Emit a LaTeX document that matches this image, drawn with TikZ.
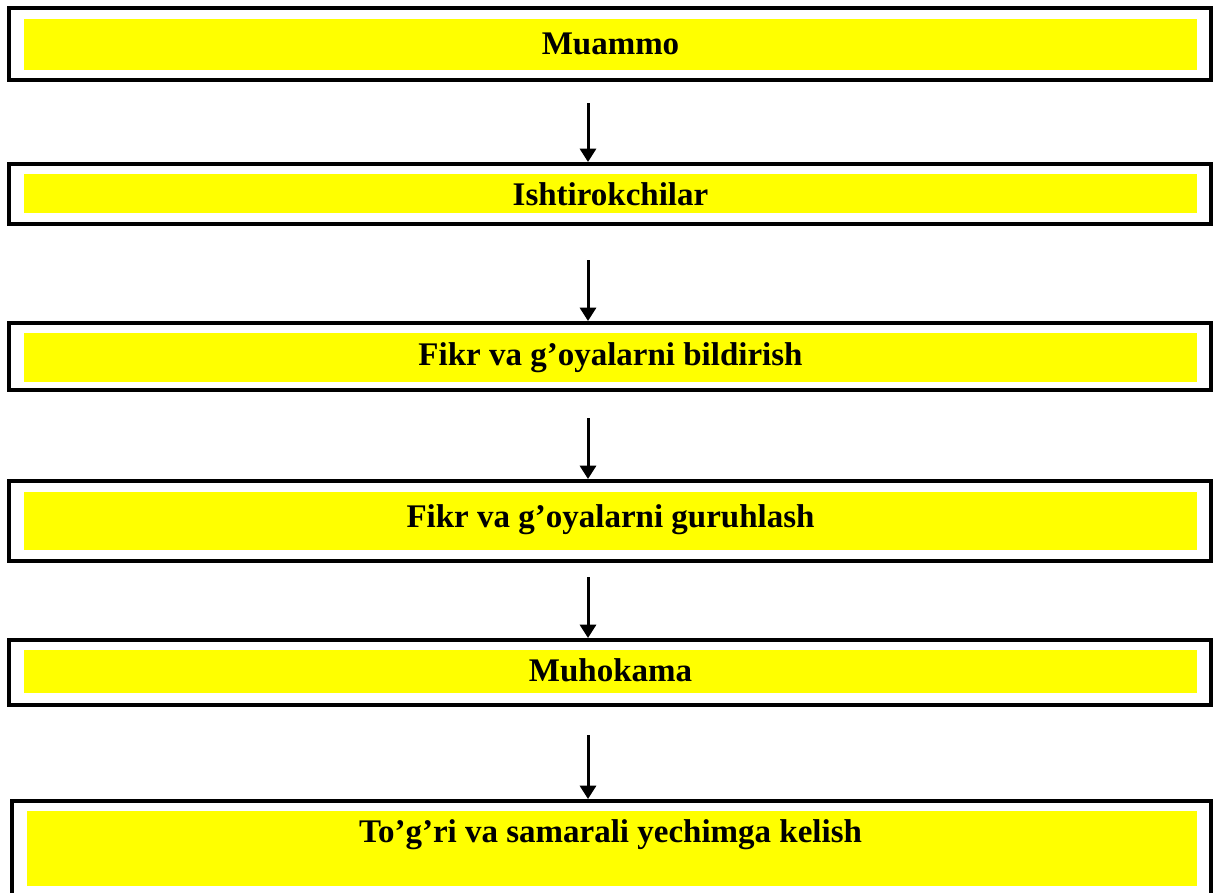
\documentclass[tikz,border=0pt]{standalone}
\usepackage{fontspec}
\setmainfont{Liberation Serif}
\usetikzlibrary{arrows.meta, fit, calc}
\definecolor{bandyellow}{rgb}{1,1,0}
\tikzset{
  stagebox/.style={draw=black, line width=3pt, inner sep=0pt},
  band/.style={fill=bandyellow, inner sep=0pt},
  stagetext/.style={anchor=base, inner sep=0pt, font=\fontsize{24.75}{30}\selectfont\bfseries},
  flow/.style={-{Triangle[width=12pt,length=10pt]}, line width=2.25pt}
}

\begin{document}
\begin{tikzpicture}[x=0.75pt, y=-0.75pt]
    \path[clip] (0,0) rectangle (1213,892);
    % Stages
    \node[stagebox, fit={(9,8) (1210.5,80)}] (box1) {};
    \node[band, fit={(24,19) (1197,70)}] (band1) {};
    \node[stagetext] (text1) at (610.5,55) {Muammo};

    \node[stagebox, fit={(9,164) (1210.5,224)}] (box2) {};
    \node[band, fit={(24,174) (1197,213)}] (band2) {};
    \node[stagetext] (text2) at (610.5,205) {Ishtirokchilar};

    \node[stagebox, fit={(9,323) (1210.5,390)}] (box3) {};
    \node[band, fit={(24,333) (1197,382)}] (band3) {};
    \node[stagetext] (text3) at (610.5,365) {Fikr va g’oyalarni bildirish};

    \node[stagebox, fit={(9,481) (1210.5,561)}] (box4) {};
    \node[band, fit={(24,492) (1197,550)}] (band4) {};
    \node[stagetext] (text4) at (610.5,527) {Fikr va g’oyalarni guruhlash};

    \node[stagebox, fit={(9,640) (1210.5,705)}] (box5) {};
    \node[band, fit={(24,650) (1197,693)}] (band5) {};
    \node[stagetext] (text5) at (610.5,681) {Muhokama};

    \node[stagebox, fit={(12,801) (1210.5,897)}] (box6) {};
    \node[band, fit={(27,811) (1197,886)}] (band6) {};
    \node[stagetext] (text6) at (610.5,842) {To’g’ri va samarali yechimga kelish};

    % Arrows
    \coordinate (from1) at (588,103);
    \coordinate (from2) at (588,260);
    \coordinate (from3) at (588,418);
    \coordinate (from4) at (588,577);
    \coordinate (from5) at (588,735);
    \draw[flow] (from1) -- (from1 |- box2.north);
    \draw[flow] (from2) -- (from2 |- box3.north);
    \draw[flow] (from3) -- (from3 |- box4.north);
    \draw[flow] (from4) -- (from4 |- box5.north);
    \draw[flow] (from5) -- (from5 |- box6.north);
\end{tikzpicture}
\end{document}
